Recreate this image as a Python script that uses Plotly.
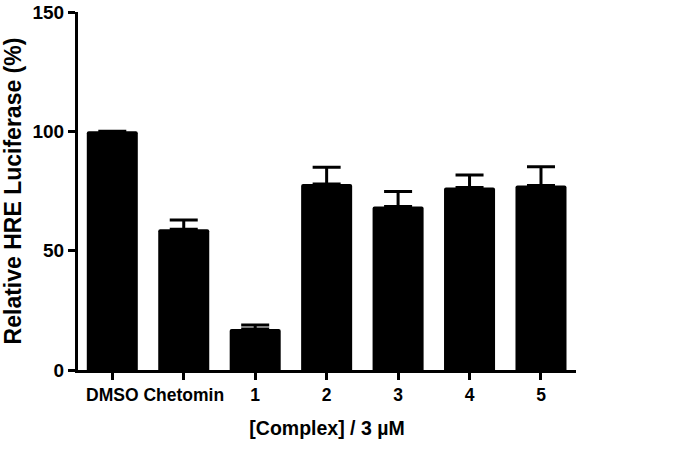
import plotly.graph_objects as go

categories = ["DMSO", "Chetomin", "1", "2", "3", "4", "5"]
values = [100, 59.0, 17.2, 77.9, 68.5, 76.5, 77.3]
errors = [float("nan"), 3.8, 1.7, 7.1, 6.3, 5.2, 7.9]
y_ticks = [0, 50, 100, 150]

FONT = "Liberation Sans, Arial, sans-serif"

fig = go.Figure(go.Bar(
    x=list(range(len(categories))),
    y=values,
    marker=dict(color="black", line=dict(width=0), cornerradius=2),
    error_y=dict(type="data", symmetric=False, array=errors,
                 arrayminus=[0] * len(errors), color="black",
                 thickness=3, width=14, visible=True),
))

fig.update_layout(
    width=675, height=450,
    margin=dict(l=78, r=99, t=12, b=80),
    paper_bgcolor="white", plot_bgcolor="white",
    bargap=0.286,
    showlegend=False,
    font=dict(family=FONT, color="black"),
)
fig.update_xaxes(
    range=[-0.48, 6.49], automargin=False,
    tickmode="array", tickvals=list(range(len(categories))), ticktext=categories,
    showline=True, linecolor="black", linewidth=3,
    ticks="outside", ticklen=7, tickwidth=3, tickcolor="black",
    showgrid=False, zeroline=False,
    tickfont=dict(family=FONT, size=17.5, color="black", weight="bold"),
    title=dict(text="[Complex] / 3 µM", standoff=18,
               font=dict(family=FONT, size=19.5, color="black", weight="bold")),
)
fig.update_yaxes(
    range=[0, 150], automargin=False, ticklabeloverflow="allow",
    tickmode="array", tickvals=y_ticks,
    showline=True, linecolor="black", linewidth=3,
    ticks="outside", ticklen=7, tickwidth=3, tickcolor="black",
    showgrid=False, zeroline=False,
    tickfont=dict(family=FONT, size=19, color="black", weight="bold"),
    title=dict(text="Relative HRE Luciferase (%)", standoff=11,
               font=dict(family=FONT, size=23, color="black", weight="bold")),
)

fig.write_html("out.html", config={"displayModeBar": False},
               post_script="document.body.style.margin='0';")
